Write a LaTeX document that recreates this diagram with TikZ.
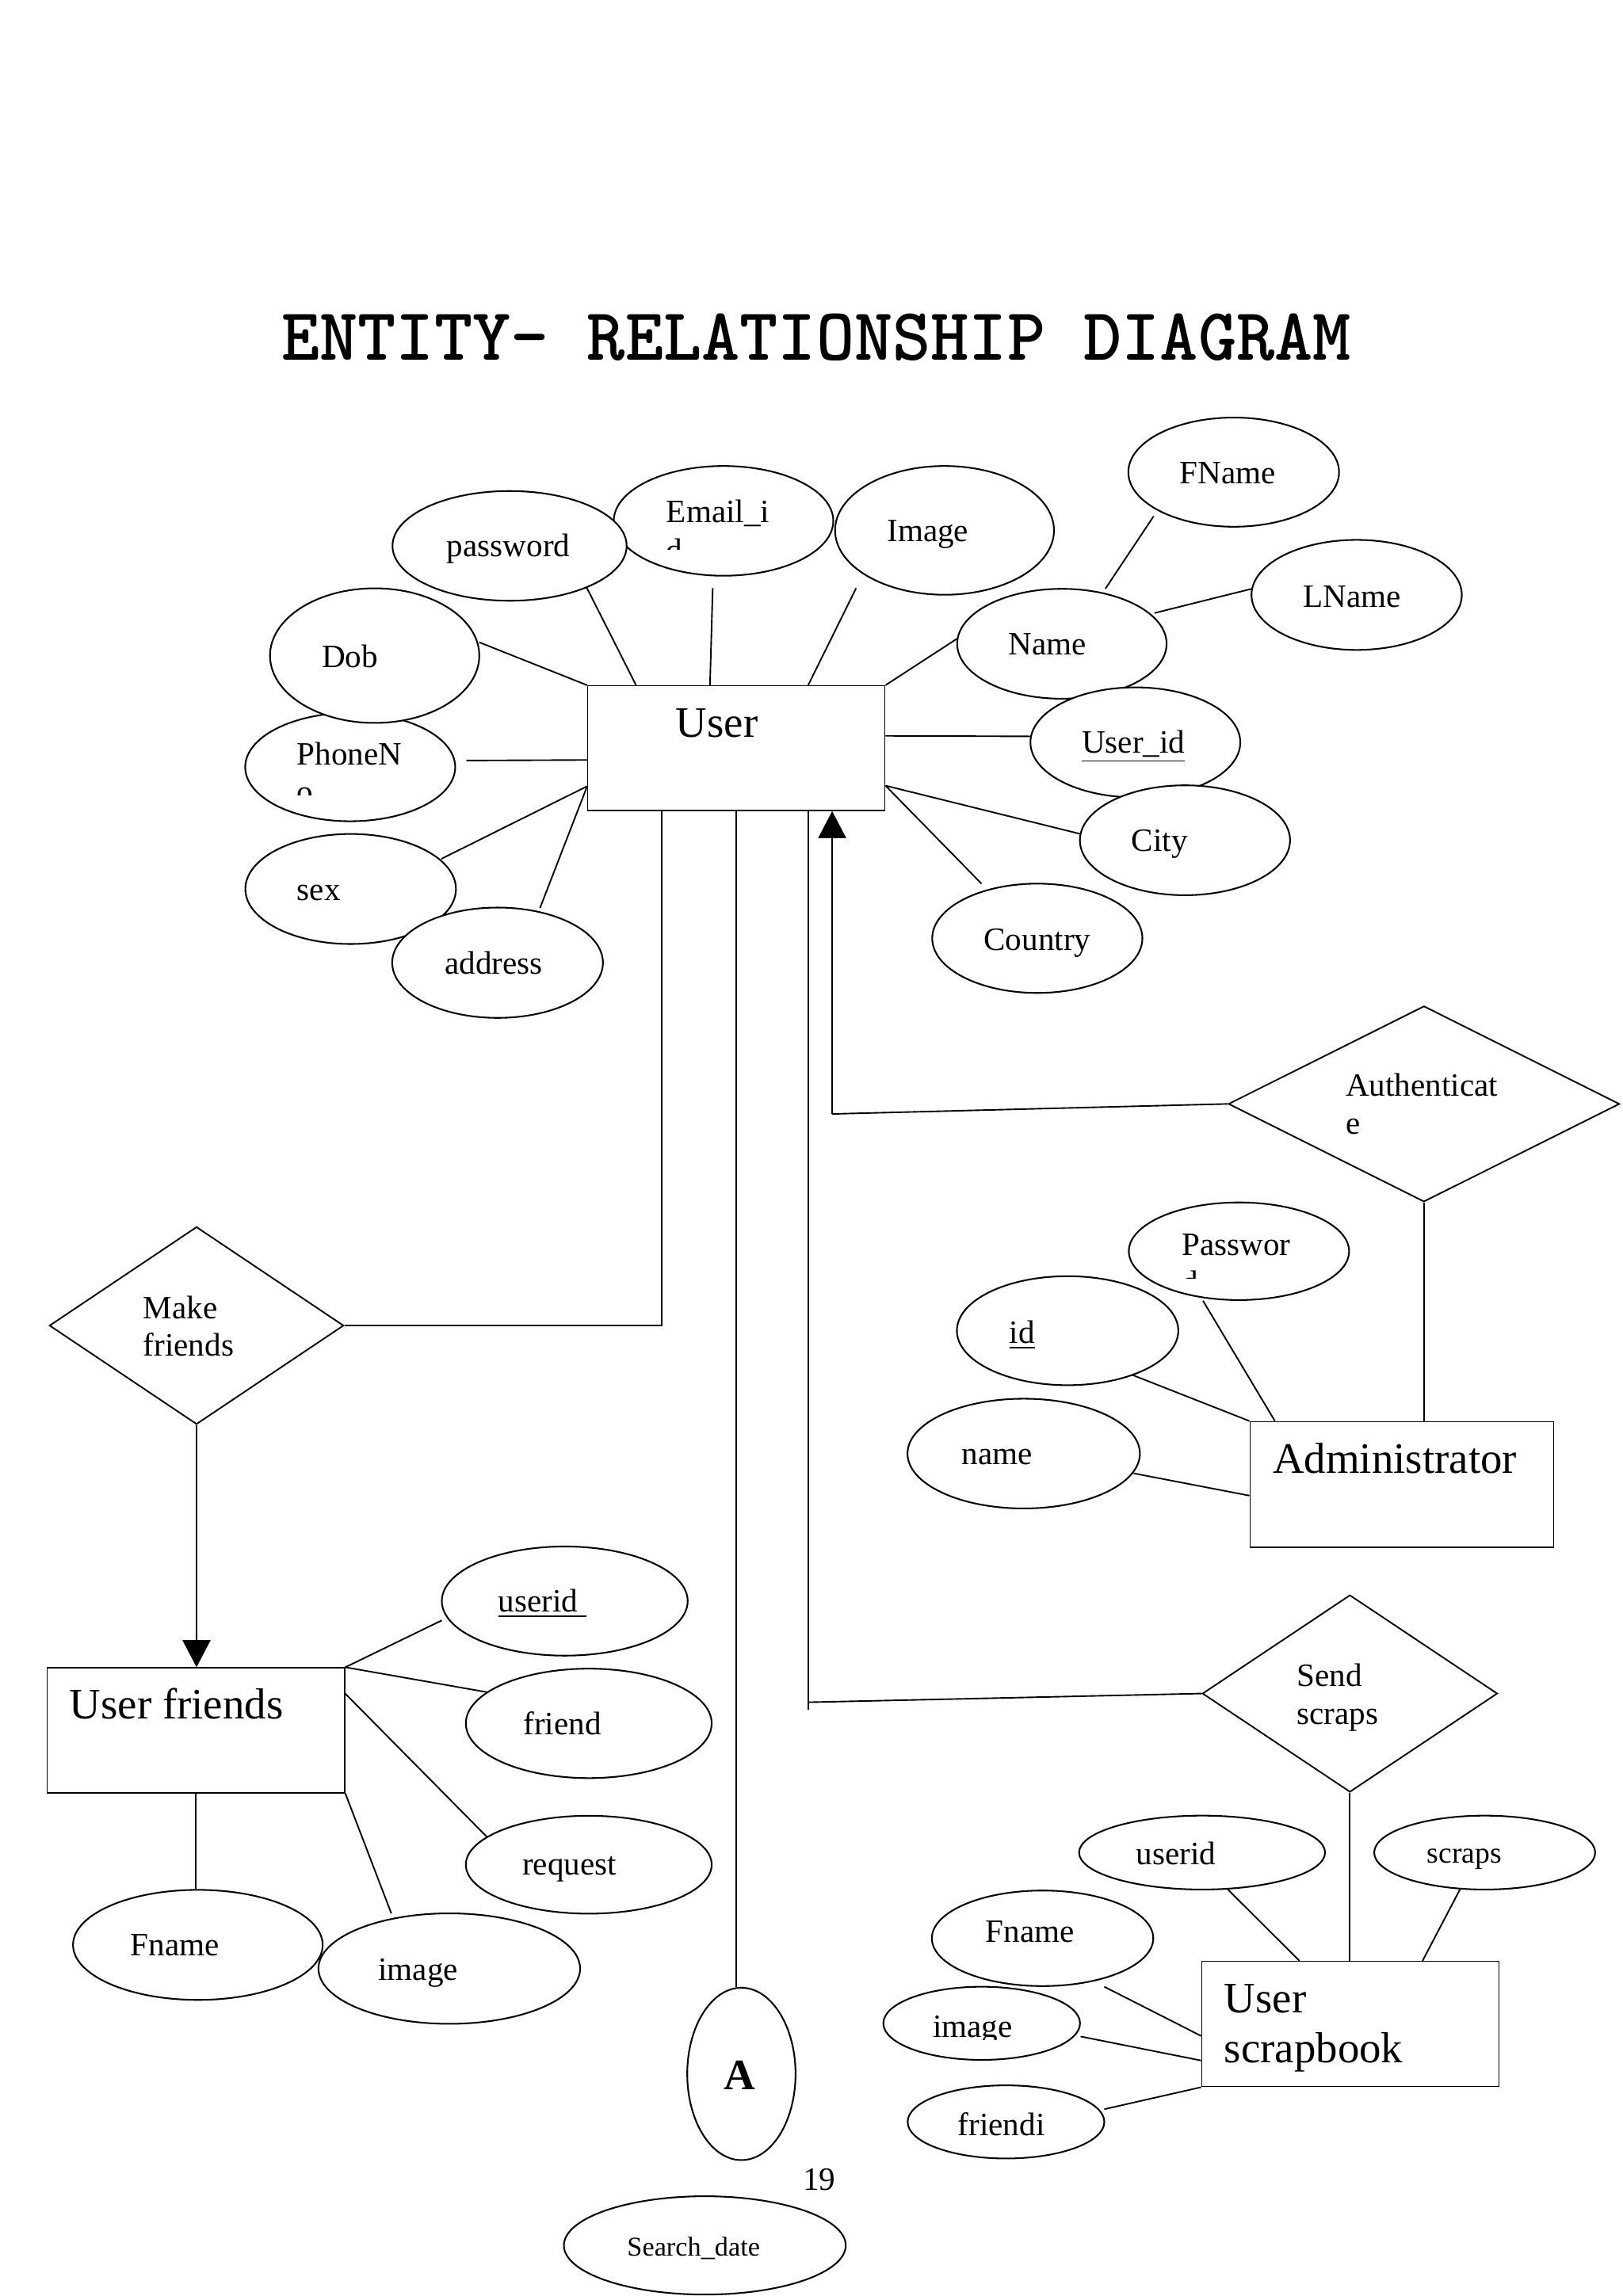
\documentclass[tikz,border=0pt]{standalone}
\usepackage{fontspec}
\setmainfont{Liberation Serif}
\usepackage{graphicx}
\usetikzlibrary{shapes.geometric,arrows.meta,calc}
\pgfdeclarelayer{paper}
\pgfdeclarelayer{background}
\pgfsetlayers{paper,background,main}
\def\dpx{0.018936cm}
\begin{document}
\begin{tikzpicture}[x=0.018936cm, y=-0.018936cm,
  ell/.style 2 args={draw, ellipse, fill=white, line width=0.6pt, minimum width=#1*\dpx, minimum height=#2*\dpx, inner sep=0pt},
  box/.style 2 args={draw, rectangle, line width=0.4pt, minimum width=#1*\dpx, minimum height=#2*\dpx, inner sep=0pt},
  dia/.style 2 args={draw, diamond, line width=0.55pt, minimum width=#1*\dpx, minimum height=#2*\dpx, inner sep=0pt},
  txt/.style={inner sep=0pt, outer sep=0pt, anchor=base west, font=\fontsize{12}{13.9}\selectfont},
  bigtxt/.style={inner sep=0pt, outer sep=0pt, anchor=base west, font=\fontsize{16}{18.4}\selectfont},
  conn/.style={line width=0.55pt},
  arr/.style={line width=0.55pt, -{Triangle[length=0.35cm,width=0.36cm]}}
]
\begin{pgfonlayer}{paper}
\fill[white] (0,0) rectangle (1109,1569.3);
\end{pgfonlayer}
\useasboundingbox (0,0) rectangle (1109,1569.3);

% title
\node[anchor=base west, inner sep=0pt] (title) at (192,246) {\resizebox{13.84cm}{0.60cm}{\ttfamily\bfseries ENTITY- RELATIONSHIP DIAGRAM}};

% entity boxes
\node[box={203.1}{85.3}] (user) at (503.15,511.35) {};
\node[box={207.6}{86}] (admin) at (957.9,1014.6) {};
\node[box={203.4}{85.5}] (uf) at (133.9,1182.65) {};
\node[box={203}{85.6}] (usb) at (922.6,1383.4) {};

% relationship diamonds
\node[dia={267.3}{133.8}] (auth) at (973,754.5) {};
\node[dia={201.1}{135}] (mf) at (134.3,906) {};
\node[dia={201.6}{134.7}] (ss) at (922.4,1157.5) {};

% User attributes
\node[ell={150}{75}] (email) at (494.4,356) {};
\node[ell={160}{75}] (password) at (348.2,373.1) {};
\node[ell={149.6}{88}] (image) at (645.4,362.5) {};
\node[ell={144}{74.6}] (fname) at (843,322.7) {};
\node[ell={143.7}{75.2}] (lname) at (927,406.6) {};
\node[ell={143.1}{75.1}] (name) at (725.6,440) {};
\node[ell={143.4}{75.2}] (userid) at (775.8,507.4) {};
\node[ell={143.6}{75.1}] (city) at (809.7,574.3) {};
\node[ell={143.6}{74.7}] (country) at (708.8,641.3) {};
\node[ell={143.5}{74}] (phone) at (239.3,524.3) {};
\node[ell={143}{92}] (dob) at (256,448.1) {};
\node[ell={143.9}{75.2}] (sex) at (239.6,607.6) {};
\node[ell={144}{75.4}] (address) at (340,658) {};

% Administrator attributes
\node[ell={150.5}{66.7}] (apass) at (846.6,855.2) {};
\node[ell={151.3}{74.5}] (aid) at (729.5,909.5) {};
\node[ell={158.8}{75}] (aname) at (699.5,993.5) {};

% User friends attributes
\node[ell={168}{74.6}] (ufuserid) at (385.9,1094.3) {};
\node[ell={168}{74.8}] (uffriend) at (402.3,1177.9) {};
\node[ell={168}{66.9}] (ufrequest) at (402.3,1274.5) {};
\node[ell={170.6}{75.2}] (uffname) at (135.2,1329.3) {};
\node[ell={178.8}{75.5}] (ufimage) at (307,1345.5) {};

% A and Search_date
\node[ell={74}{117.8}] (a) at (506.6,1417.5) {};
\node[ell={192.6}{67.2}] (search) at (481.6,1534.7) {};

% User scrapbook attributes
\node[ell={168.1}{50.5}] (sbuserid) at (821.4,1266.2) {};
\node[ell={151}{50.5}] (sbscraps) at (1014.5,1266.2) {};
\node[ell={151.3}{65.3}] (sbfname) at (712.4,1324.8) {};
\node[ell={134.4}{50}] (sbimage) at (670.8,1382.9) {};
\node[ell={134.4}{50}] (sbfriendi) at (687.4,1450.3) {};

\coordinate (ajoin) at ($(user.south west)+(167.4,207)$);

% connectors
\begin{pgfonlayer}{background}
\draw[conn] ($(dob)+(71.5,-9.1)$) -- (user.north west);
\draw[conn] ($(password)+(52.6,28.3)$) -- ($(user.north west)+(33.4,0)$);
\draw[conn] ($(email)+(-7.4,46)$) -- ($(user.north west)+(83.9,0)$);
\draw[conn] ($(image)+(-60.4,39.5)$) -- ($(user.north west)+(151,0)$);
\draw[conn] ($(name)+(-71.6,-3.5)$) -- (user.north east);
\draw[conn] ($(userid)+(-71.1,-4.1)$) -- ($(user.north east)+(0,34.6)$);
\draw[conn] ($(city)+(-71.8,-4.4)$) -- ($(user.south east)+(0,-17.4)$);
\draw[conn] ($(country)+(-38.1,-37.3)$) -- ($(user.south east)+(0,-17.4)$);
\draw[conn] ($(phone)+(79.4,-4.5)$) -- ($(user.north west)+(0,51.1)$);
\draw[conn] ($(sex)+(62,-20.6)$) -- ($(user.south west)+(0,-17)$);
\draw[conn] ($(address)+(29,-37.4)$) -- ($(user.south west)+(0,-17)$);
\draw[conn] ($(fname)+(-54.7,30.1)$) -- ($(name)+(29.7,-37.6)$);
\draw[conn] ($(lname)+(-72,-4.1)$) -- ($(name)+(63.3,-21)$);

\draw[conn] ($(user.south west)+(50.9,0)$) |- (mf.east);
\draw[conn] (user.south) -- (user.south |- a.north);
\draw[conn] ($(user.south west)+(151,0)$) -- ++(0,614);
\draw[conn] ($(user.south west)+(151,609.1)$) -- (ss.west);
\draw[arr] (ajoin) -- (ajoin |- user.south);
\draw[conn] (ajoin) -- (auth.west);

\draw[conn] (auth.south) -- (auth.south |- admin.north);
\draw[conn] ($(apass)+(-24.6,33.8)$) -- ($(admin.north west)+(17.4,0)$);
\draw[conn] ($(aid)+(42.8,29.7)$) -- (admin.north west);
\draw[conn] ($(aname)+(75.1,13.5)$) -- ($(admin.north west)+(0,51)$);

\draw[arr] (mf.south) -- (mf.south |- uf.north);
\draw[conn] ($(ufuserid)+(-84,13.2)$) -- (uf.north east);
\draw[conn] (uf.north east) -- ($(uffriend)+(-67.6,-21)$);
\draw[conn] ($(uf.north east)+(0,18.1)$) -- ($(ufrequest)+(-67.6,-17)$);
\draw[conn] (uf.south) -- (uf.south |- uffname.north);
\draw[conn] (uf.south east) -- ($(ufimage)+(-39.6,-37.7)$);

\draw[conn] (ss.south) -- (ss.south |- usb.north);
\draw[conn] ($(sbuserid)+(17.6,25.2)$) -- ($(usb.north west)+(67.2,0)$);
\draw[conn] ($(sbscraps)+(-16.9,25.2)$) -- ($(usb.north west)+(151.3,0)$);
\draw[conn] ($(sbfname)+(42.2,33.1)$) -- ($(usb.north west)+(0,51.3)$);
\draw[conn] ($(sbimage)+(67.6,9)$) -- ($(usb.north west)+(0,68.1)$);
\draw[conn] ($(sbfriendi)+(67.2,-8.7)$) -- (usb.south west);
\end{pgfonlayer}

% texts
\node[txt] (t_password) at (305.4,380.4) {password};
\node[txt] (t_email) at (455.4,357.3) {Email\_i};
\begin{scope}
\clip (440,362) rectangle (480,375.6);
\node[txt] (t_emaild) at (455.4,383.5) {d};
\end{scope}
\node[txt] (t_image) at (606.2,370.3) {Image};
\node[txt] (t_fname) at (806.3,330.7) {FName};
\node[txt] (t_lname) at (890.5,414.9) {LName};
\node[txt] (t_name) at (689,447.6) {Name};
\node[txt] (t_dob) at (220,456.2) {Dob};
\node[txt] (t_phone) at (202.9,523) {PhoneN};
\begin{scope}
\clip (195,530) rectangle (230,543.4);
\node[txt] (t_phoneo) at (202.9,549) {o};
\end{scope}
\node[bigtxt] (t_user) at (461.9,503.9) {User};
\node[txt] (t_userid) at (739.2,514.7) {\underline{User\_id}};
\node[txt] (t_city) at (773.2,582) {City};
\node[txt] (t_country) at (672.3,649.4) {Country};
\node[txt] (t_sex) at (203,615.4) {sex};
\node[txt] (t_address) at (303.9,665.6) {address};

\node[txt] (t_auth1) at (919.6,749.3) {Authenticat};
\node[txt] (t_auth2) at (919.6,775.2) {e};
\node[txt] (t_apass) at (807.7,858) {Passwor};
\begin{scope}
\clip (800,862) rectangle (830,873.7);
\node[txt] (t_apassd) at (807.7,883.9) {d};
\end{scope}
\node[txt] (t_aid) at (689.8,918.3) {\underline{id}};
\node[txt] (t_aname) at (657.1,1001) {name};
\node[bigtxt] (t_admin) at (869.8,1007) {Administrator};

\node[txt] (t_mf1) at (97.9,901.5) {Make};
\node[txt] (t_mf2) at (97.9,926.7) {friends};

\node[bigtxt] (t_uf) at (47.6,1174.8) {User friends};
\node[txt] (t_ufuserid) at (340.6,1101.8) {\underline{userid\hspace{0.25em}}};
\node[txt] (t_uffriend) at (357.7,1185.6) {friend};
\node[txt] (t_ufrequest) at (357,1281.5) {request};
\node[txt] (t_uffname) at (89.2,1336.6) {Fname};
\node[txt] (t_ufimage) at (258.6,1353.4) {image};

\node[inner sep=0pt, outer sep=0pt, anchor=base west, font=\fontsize{16}{18.4}\selectfont\bfseries] (t_a) at (494.4,1428.4) {A};
\node[txt] (t_page) at (548.6,1497) {19};
\node[inner sep=0pt, outer sep=0pt, anchor=base west, font=\fontsize{10}{11.5}\selectfont] (t_search) at (428.6,1542.1) {Search\_date};

\node[txt] (t_ss1) at (886.2,1152.8) {Send};
\node[txt] (t_ss2) at (886.2,1178.7) {scraps};
\node[bigtxt] (t_usb1) at (836.6,1375.6) {User};
\node[bigtxt] (t_usb2) at (836.6,1409.8) {scrapbook};
\node[txt] (t_sbuserid) at (776.3,1274.5) {userid};
\node[inner sep=0pt, outer sep=0pt, anchor=base west, font=\fontsize{11}{12.7}\selectfont] (t_sbscraps) at (975.2,1273.3) {scraps};
\node[txt] (t_sbfname) at (673.6,1327.6) {Fname};
\begin{scope}
\clip (630,1370) rectangle (720,1394.2);
\node[txt] (t_sbimage) at (637.4,1392.4) {image};
\end{scope}
\node[txt] (t_sbfriendi) at (654.6,1459.8) {friendi};
\end{tikzpicture}
\end{document}
